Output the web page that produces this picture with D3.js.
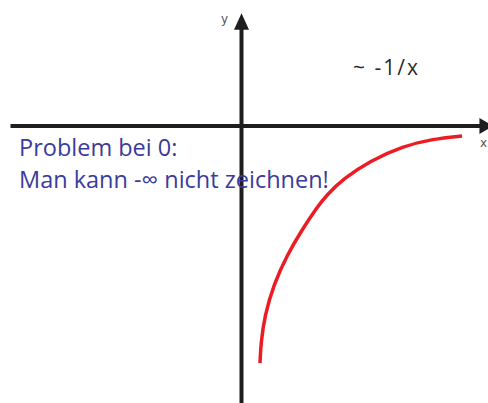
<!DOCTYPE html>
<html>
<meta charset="utf-8">
<style>
body { margin: 0; background: #fff; }
.axis line { stroke: #1e1e1e; stroke-width: 4; }
.axis path.head { fill: #1e1e1e; }
.axis text { font: 12px "DejaVu Sans", sans-serif; fill: #555; }
path.curve { fill: none; stroke: #ec1c24; stroke-width: 3.5; stroke-linecap: butt; }
.note { font-family: "Open Sans", sans-serif; fill: #3b3b9b; }
.formula { font-family: "Open Sans", sans-serif; fill: #2a2a2a; }
</style>
<body>
<div id="chart"></div>

<script src="https://d3js.org/d3.v7.min.js"></script>
<script>

var width = 488,
    height = 403;

// curve values (~ -1/x)
var curveX = [0.080, 0.084, 0.100, 0.140, 0.197, 0.260, 0.327, 0.370, 0.439, 0.556, 0.699, 0.829, 0.955];
var curveY = [-0.862, -0.790, -0.690, -0.575, -0.470, -0.380, -0.295, -0.250, -0.193, -0.127, -0.073, -0.047, -0.036];

var axisLabels = ["x", "y"];
var formula = "~ -1/x";
var noteLines = ["Problem bei 0:", "Man kann -\u221e nicht zeichnen!"];

var x = d3.scaleLinear()
    .domain([0, 1])
    .range([241.5, 472.5]);

var y = d3.scaleLinear()
    .domain([0, -1])
    .range([126, 401]);

var svg = d3.select("#chart").append("svg")
    .attr("width", width)
    .attr("height", height);

var axes = svg.append("g").attr("class", "axis");

// x axis
axes.append("line")
    .attr("x1", x(-1)).attr("x2", x(1.035))
    .attr("y1", y(0)).attr("y2", y(0));
axes.append("path")
    .attr("class", "head")
    .attr("d", "M" + x(1.03) + "," + (y(0) - 8) + "L" + (x(1.03) + 14) + "," + y(0) + "L" + x(1.03) + "," + (y(0) + 8) + "Z");
axes.append("text")
    .attr("x", 480)
    .attr("y", y(0) + 21)
    .text(axisLabels[0]);

// y axis
axes.append("line")
    .attr("x1", x(0)).attr("x2", x(0))
    .attr("y1", y(-1.02)).attr("y2", y(0.36));
axes.append("path")
    .attr("class", "head")
    .attr("d", "M" + (x(0) - 7.5) + "," + y(0.35) + "L" + x(0) + "," + y(0.41) + "L" + (x(0) + 7.5) + "," + y(0.35) + "Z");
axes.append("text")
    .attr("x", 221)
    .attr("y", 23)
    .text(axisLabels[1]);

var line = d3.line()
    .x(function(d) { return x(d[0]); })
    .y(function(d) { return y(d[1]); })
    .curve(d3.curveBasis);

svg.append("path")
    .datum(d3.zip(curveX, curveY))
    .attr("class", "curve")
    .attr("d", line);

svg.append("text")
    .attr("class", "formula")
    .attr("x", 353)
    .attr("y", 75)
    .attr("textLength", 65)
    .attr("lengthAdjust", "spacing")
    .style("font-size", "21px")
    .text(formula);

svg.selectAll("text.note")
    .data(noteLines)
    .join("text")
    .attr("class", "note")
    .attr("x", 19)
    .attr("y", function(d, i) { return 156 + i * 32; })
    .style("font-size", "23.5px")
    .text(function(d) { return d; });

</script>
</body>
</html>
